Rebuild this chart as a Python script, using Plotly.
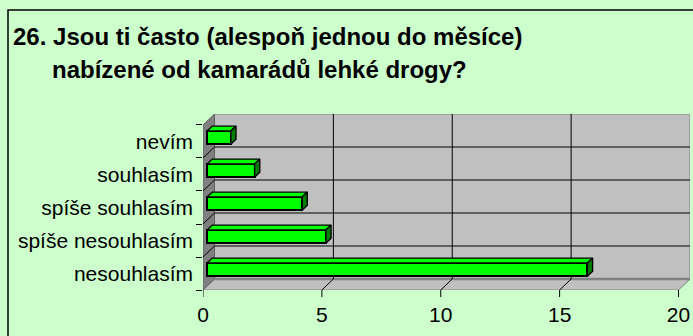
import plotly.graph_objects as go

# ---- data ----
categories = ["nesouhlasím", "spíše nesouhlasím", "spíše souhlasím", "souhlasím", "nevím"]
counts = [16, 5, 4, 2, 1]
x_ticks = [0, 5, 10, 15, 20]
title_lines = ["26. Jsou ti často (alespoň jednou do měsíce)",
               "nabízené od kamarádů lehké drogy?"]

# ---- geometry ----
W, H = 693, 336
L, R, T, B = 203, 690, 114, 290          # plot area in pixels
XMAX = 20
NCAT = len(categories)
DX = 0.484                                # wall depth along x (axis units)
DY = 0.333                                # wall depth along y (category units)
F0, F1 = 0.35, 0.80                       # bar front / back depth fractions
BAR_H = 0.40
XTICK_LEN = 7                             # px

BG = "#CCFFCC"
WALL = "#C0C0C0"
WALL_DARK = "#808080"
GREEN = "#00FF00"
GREEN_DARK = "#008000"
FONT = "Liberation Sans, Arial, sans-serif"


def px_x(p):
    return (p - L) / (R - L)


def px_y(p):
    return (B - p) / (B - T)


shapes = []


def add_line(x0, y0, x1, y1, color="black", width=1, yref="y"):
    shapes.append(dict(type="line", xref="x", yref=yref, x0=x0, y0=y0, x1=x1, y1=y1,
                       line=dict(color=color, width=width), layer="below"))


# back wall
shapes.append(dict(type="rect", xref="x", yref="y", x0=DX, x1=XMAX + DX, y0=DY, y1=NCAT + DY,
                   fillcolor=WALL, line=dict(color=WALL_DARK, width=1), layer="below"))
# floor
shapes.append(dict(type="path", xref="x", yref="y",
                   path=f"M 0,0 L {XMAX},0 L {XMAX + DX},{DY} L {DX},{DY} Z",
                   fillcolor=WALL, line=dict(color=WALL_DARK, width=1), layer="below"))
# left wall
shapes.append(dict(type="path", xref="x", yref="y",
                   path=f"M 0,0 L {DX},{DY} L {DX},{NCAT + DY} L 0,{NCAT} Z",
                   fillcolor=WALL_DARK, line=dict(color="#606060", width=1), layer="below"))
# seam between back wall and floor
add_line(DX, DY, XMAX + DX, DY, color=WALL_DARK, width=2.5)

# value gridlines on back wall + floor
for v in x_ticks[1:-1]:
    add_line(v + DX, DY, v + DX, NCAT + DY)
    add_line(v, 0, v + DX, DY)
# category gridlines on back wall + left wall
for i in range(1, NCAT):
    add_line(DX, i + DY, XMAX + DX, i + DY)
    add_line(0, i, DX, i + DY)
# value tick marks below the front edge
for v in x_ticks:
    add_line(v, 0, v, px_y(B + XTICK_LEN), yref="paper")

# outer frame of the chart
shapes.append(dict(type="rect", xref="paper", yref="paper",
                   x0=px_x(8), y0=px_y(10), x1=px_x(W + 20), y1=px_y(H + 20),
                   line=dict(color="black", width=1.5), fillcolor="rgba(0,0,0,0)", layer="below"))

# ---- bars ----
base = F0 * DX
centers = [i + 0.5 + F0 * DY for i in range(NCAT)]
k = F1 - F0

top_x, top_y, side_x, side_y = [], [], [], []
for c, v in zip(centers, counts):
    yt, yb = c + BAR_H / 2, c - BAR_H / 2
    x1 = base + v
    top_x += [base, x1, x1 + k * DX, base + k * DX, base, None]
    top_y += [yt, yt, yt + k * DY, yt + k * DY, yt, None]
    side_x += [x1, x1, x1 + k * DX, x1 + k * DX, x1, None]
    side_y += [yb, yt, yt + k * DY, yb + k * DY, yb, None]

fig = go.Figure()
fig.add_trace(go.Scatter(x=top_x, y=top_y, mode="lines", fill="toself", fillcolor=GREEN,
                         line=dict(color="black", width=1.4), hoverinfo="skip", showlegend=False))
fig.add_trace(go.Scatter(x=side_x, y=side_y, mode="lines", fill="toself", fillcolor=GREEN_DARK,
                         line=dict(color="black", width=1.4), hoverinfo="skip", showlegend=False))
fig.add_trace(go.Bar(y=centers, x=counts, base=base, orientation="h", width=BAR_H,
                     marker=dict(color=GREEN, line=dict(color="black", width=2)),
                     showlegend=False, hovertext=categories))

annotations = [
    dict(text=f"<b>{title_lines[0]}</b>", xref="paper", yref="paper", x=px_x(11), y=px_y(36),
         xanchor="left", yanchor="middle", showarrow=False,
         font=dict(family=FONT, size=24, color="black")),
    dict(text=f"<b>{title_lines[1]}</b>", xref="paper", yref="paper", x=px_x(50), y=px_y(69),
         xanchor="left", yanchor="middle", showarrow=False,
         font=dict(family=FONT, size=24, color="black")),
]

fig.update_layout(
    width=W, height=H,
    margin=dict(l=L, r=W - R, t=T, b=H - B, pad=0),
    paper_bgcolor=BG, plot_bgcolor="rgba(0,0,0,0)",
    shapes=shapes, annotations=annotations,
    bargap=0, showlegend=False,
    xaxis=dict(range=[0, XMAX + DX], tickmode="array", tickvals=x_ticks,
               ticks="", showgrid=False, zeroline=False, showline=False, fixedrange=True,
               ticklabelstandoff=10,
               tickfont=dict(family=FONT, size=21, color="black")),
    yaxis=dict(range=[0, NCAT + DY], tickmode="array",
               tickvals=[i + 0.5 for i in range(NCAT)], ticktext=categories,
               ticks="", showgrid=False, zeroline=False, showline=False, fixedrange=True,
               minor=dict(tickmode="array", tickvals=list(range(NCAT + 1)),
                          ticks="outside", ticklen=6, tickcolor="black", tickwidth=1,
                          showgrid=False),
               ticklabelstandoff=9,
               tickfont=dict(family=FONT, size=21, color="black")),
)

fig.write_html("out.html")
